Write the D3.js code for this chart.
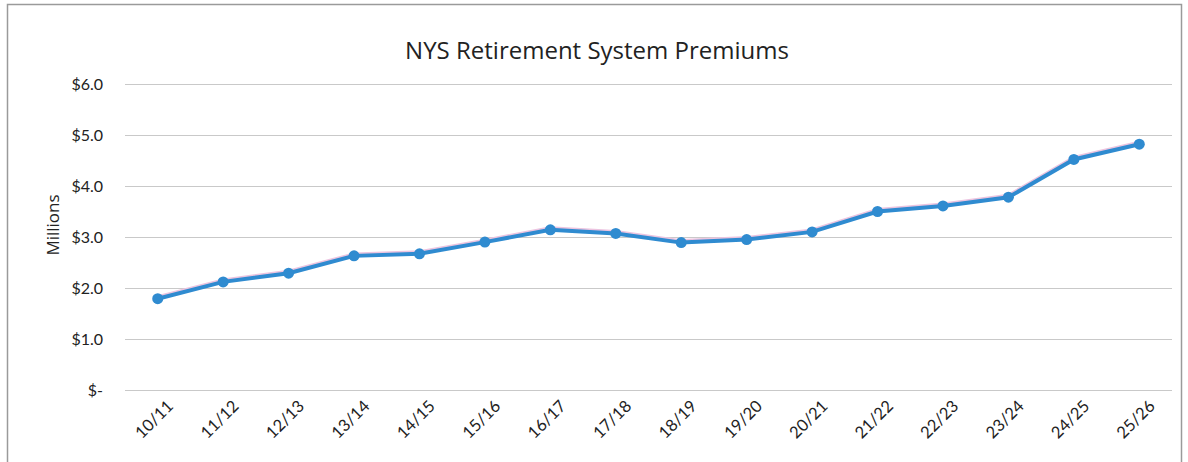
<!DOCTYPE html>
<html>
<head>
<meta charset="utf-8">
<script src="https://cdn.jsdelivr.net/npm/d3@7"></script>
<style>
  body { margin: 0; background: #fff; }
  text { font-family: Lato, "Open Sans", sans-serif; fill: #222; }
</style>
</head>
<body>
<div id="chart"></div>
<script>
// fiscal years and premiums (millions)
let years = ['10/11', '11/12', '12/13', '13/14', '14/15', '15/16', '16/17', '17/18',
    '18/19', '19/20', '20/21', '21/22', '22/23', '23/24', '24/25', '25/26'];
let premiums = [1.79, 2.12, 2.29, 2.63, 2.67, 2.90, 3.14, 3.07,
    2.89, 2.95, 3.10, 3.50, 3.61, 3.78, 4.52, 4.82];
let yTicks = [0, 1, 2, 3, 4, 5, 6];

let width = 1188;
let height = 462;
let margin = { top: 84, right: 16, bottom: 72, left: 125 };
let innerW = width - margin.left - margin.right;
let innerH = height - margin.top - margin.bottom;

let svg = d3.select('#chart')
    .append('svg')
    .attr('width', width)
    .attr('height', height);

// frame of the chart area
svg.append('rect')
    .attr('x', 7.5)
    .attr('y', 4.5)
    .attr('width', 1174)
    .attr('height', 470)
    .attr('fill', 'none')
    .attr('stroke', '#9a9a9a')
    .attr('stroke-width', 1.5);

let g = svg.append('g')
    .attr('transform', `translate(${margin.left}, ${margin.top})`);

let x = d3.scalePoint()
    .domain(years)
    .range([0, innerW])
    .padding(0.5);

let y = d3.scaleLinear()
    .domain([0, 6])
    .range([innerH, 0]);

// gridlines + y labels
let yAxis = g.append('g')
    .call(d3.axisLeft(y)
        .tickValues(yTicks)
        .tickSize(-innerW)
        .tickPadding(22)
        .tickFormat(d => d === 0 ? '$-' : '$' + d.toFixed(1)));
yAxis.select('.domain').remove();
yAxis.selectAll('line').attr('stroke', '#c9c9c9').attr('stroke-width', 1);
yAxis.selectAll('text').style('font-size', '16px').attr('fill', '#222');

// x labels
let xAxis = g.append('g')
    .attr('transform', `translate(0,${innerH})`)
    .call(d3.axisBottom(x).tickSize(0));
xAxis.select('.domain').remove();
xAxis.selectAll('text')
    .style('font-size', '16.5px')
    .attr('fill', '#222')
    .attr('text-anchor', 'end')
    .attr('dy', 0)
    .attr('transform', 'translate(14,15) rotate(-45)');

// line
let line = d3.line()
    .x((d, i) => x(years[i]))
    .y(d => y(d));

g.append('path')
    .datum(premiums)
    .attr('fill', 'none')
    .attr('stroke', '#ecc4e0')
    .attr('stroke-width', 4)
    .attr('transform', 'translate(0,-1.5)')
    .attr('d', line);

g.append('path')
    .datum(premiums)
    .attr('fill', 'none')
    .attr('stroke', '#2f8bd0')
    .attr('stroke-width', 4)
    .attr('d', line);

g.selectAll('.dot')
    .data(premiums)
    .enter()
    .append('circle')
    .attr('class', 'dot')
    .attr('cx', (d, i) => x(years[i]))
    .attr('cy', d => y(d))
    .attr('r', 5.5)
    .attr('fill', '#2f8bd0');

// title
svg.append('text')
    .text('NYS Retirement System Premiums')
    .attr('x', 597)
    .attr('y', 59)
    .attr('text-anchor', 'middle')
    .style('font-family', '"Open Sans", sans-serif')
    .style('font-size', '24px');

// y axis title
svg.append('text')
    .text('Millions')
    .attr('transform', 'translate(59, 225) rotate(-90)')
    .attr('text-anchor', 'middle')
    .style('font-family', '"Open Sans", sans-serif')
    .style('font-size', '17px');
</script>
</body>
</html>
